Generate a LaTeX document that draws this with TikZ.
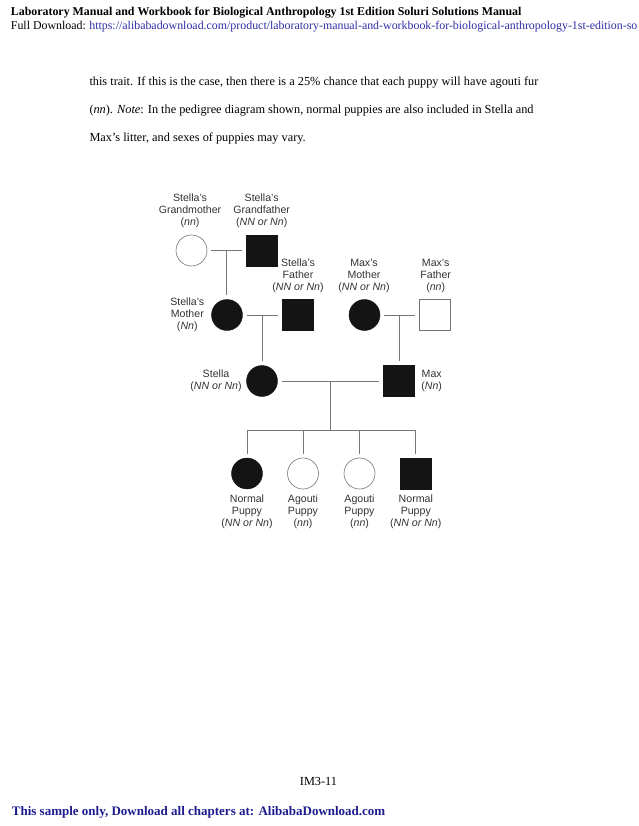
\documentclass[tikz,border=0pt]{standalone}
\usepackage{fontspec}
\setmainfont{Liberation Serif}
\setsansfont{Liberation Sans}
\usetikzlibrary{positioning,calc}
\definecolor{linkBlue}{HTML}{2E2EA6}
\definecolor{footBlue}{HTML}{1C1C8E}
\definecolor{kinGray}{HTML}{777777}

\begin{document}
\begin{tikzpicture}[x=1pt, y=-1pt,
    affF/.style={circle, minimum size=31pt, inner sep=0pt, fill=black!92, draw=black!92},
    unaffF/.style={circle, minimum size=31pt, inner sep=0pt, fill=white, draw=black!55, line width=0.6pt},
    affM/.style={rectangle, minimum size=31pt, inner sep=0pt, fill=black!92, draw=black!92},
    unaffM/.style={rectangle, minimum size=31pt, inner sep=0pt, fill=white, draw=black!55, line width=0.6pt},
    lbl/.style={font=\sffamily\fontsize{10.6}{12}\selectfont, align=center, text=black!80, inner sep=0pt},
    kin/.style={draw=kinGray, line width=0.7pt},
    gapped/.style={shorten <=4pt, shorten >=4pt},
    body/.style={anchor=base west, inner sep=0pt, font=\fontsize{12.3}{14}\selectfont}
]
    \useasboundingbox (0,0) rectangle (638,826);

    % page header
    \node[body, font=\bfseries\fontsize{11.9}{14}\selectfont] (head) at (10.7,16)
        {Laboratory Manual and Workbook for Biological Anthropology 1st Edition Soluri Solutions Manual};
    \node[body, font=\fontsize{11.9}{14}\selectfont] (dl) at (10.7,30) {Full Download:};
    \node[body, font=\fontsize{11.9}{14}\selectfont, text=linkBlue] (url) at ([xshift=3pt]dl.base east)
        {https://alibabadownload.com/product/laboratory-manual-and-workbook-for-biological-anthropology-1st-edition-so};

    % running text
    \node[body] (t1) at (89.3,86) {this trait. If this is the case, then there is a 25\% chance that each puppy will have agouti fur};
    \node[body] (t2) at (89.3,113.5) {(\textit{nn}). \textit{Note}: In the pedigree diagram shown, normal puppies are also included in Stella and};
    \node[body] (t3) at (89.3,141.7) {Max’s litter, and sexes of puppies may vary.};

    % generation I
    \node[unaffF] (gm) at (191.5,250.5) {};
    \node[affM] (gf) at (262,250.5) {};
    \node[lbl] at (190,211) {Stella's\\Grandmother\\(\textit{nn})};
    \node[lbl] at (261.7,211) {Stella's\\Grandfather\\(\textit{NN or Nn})};

    % generation II
    \node[affF] (sm) at (227,315) {};
    \node[affM] (sf) at (297.5,315) {};
    \node[affF] (mm) at (364.5,315) {};
    \node[unaffM] (mf) at (435,315) {};
    \node[lbl] at (187.3,315) {Stella's\\Mother\\(\textit{Nn})};
    \node[lbl] at (298,276) {Stella's\\Father\\(\textit{NN or Nn})};
    \node[lbl] at (364,276) {Max's\\Mother\\(\textit{NN or Nn})};
    \node[lbl] at (435.7,276) {Max's\\Father\\(\textit{nn})};

    % generation III
    \node[affF] (st) at (262,381) {};
    \node[affM] (mx) at (399,381) {};
    \node[lbl] at (216,380.5) {Stella\\(\textit{NN or Nn})};
    \node[lbl] at (431.7,380.5) {Max\\(\textit{Nn})};

    % litter
    \foreach \n/\x/\s/\t in {p1/247/affF/{Normal\\Puppy\\(\textit{NN or Nn})},
                             p2/303/unaffF/{Agouti\\Puppy\\(\textit{nn})},
                             p3/359.5/unaffF/{Agouti\\Puppy\\(\textit{nn})},
                             p4/415.8/affM/{Normal\\Puppy\\(\textit{NN or Nn})}} {
        \node[\s] (\n) at (\x,473.5) {};
        \node[lbl] (\n l) at (\x,512) {\t};
    }

    % matings and descent
    \draw[kin, gapped] (gm) -- (gf);
    \draw[kin, gapped] (sm) -- (sf);
    \draw[kin, gapped] (mm) -- (mf);
    \draw[kin, gapped] (st) -- (mx);
    \coordinate (gmid) at ($(gm.east)!0.5!(gf.west)$);
    \coordinate (smid) at ($(sm.east)!0.5!(sf.west)$);
    \coordinate (mmid) at ($(mm.east)!0.5!(mf.west)$);
    \coordinate (cmid) at ($(st.east)!0.5!(mx.west)$);
    \coordinate (bar) at (cmid |- 0,430);
    \draw[kin, shorten >=4pt] (gmid) -- (gmid |- sm.north);
    \draw[kin, shorten >=4pt] (smid) -- (smid |- st.north);
    \draw[kin, shorten >=4pt] (mmid) -- (mmid |- mx.north);
    \draw[kin] (cmid) -- (bar);
    \draw[kin] (bar -| p1) -- (bar -| p4);
    \foreach \n in {p1,p2,p3,p4}
        \draw[kin, shorten >=4pt] (bar -| \n) -- (\n.north);

    % page footer
    \node[body, anchor=base] (pg) at (318.5,785) {IM3-11};
    \node[body, font=\bfseries\fontsize{13}{15}\selectfont, text=footBlue] (foot) at (11.7,815)
        {This sample only, Download all chapters at: AlibabaDownload.com};
\end{tikzpicture}
\end{document}
